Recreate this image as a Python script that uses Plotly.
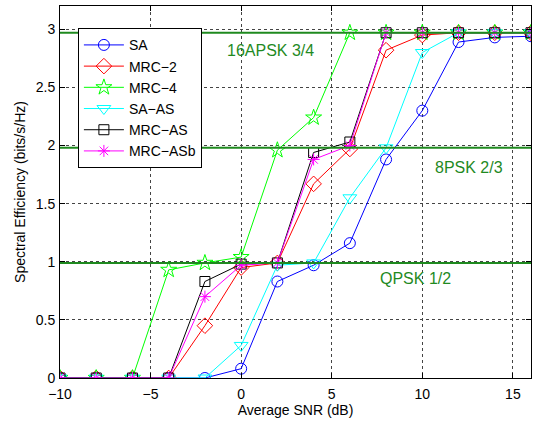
import plotly.graph_objects as go

snr = [-10, -8, -6, -4, -2, 0, 2, 4, 6, 8, 10, 12, 14, 16]

sa      = [0, 0, 0, 0, 0, 0.08, 0.83, 0.97, 1.16, 1.88, 2.30, 2.89, 2.93, 2.94]
mrc2    = [0, 0, 0, 0, 0.45, 0.95, 0.99, 1.67, 1.97, 2.82, 2.95, 2.97, 2.97, 2.97]
mrc4    = [0, 0, 0, 0.93, 0.99, 1.04, 1.96, 2.24, 2.97, 2.97, 2.97, 2.97, 2.97, 2.97]
sa_as   = [0, 0, 0, 0, 0, 0.28, 0.97, 0.99, 1.55, 1.98, 2.80, 2.97, 2.97, 2.97]
mrc_as  = [0, 0, 0, 0, 0.83, 0.98, 0.99, 1.94, 2.03, 2.97, 2.97, 2.97, 2.97, 2.97]
mrc_asb = [0, 0, 0, 0, 0.70, 0.97, 0.99, 1.88, 2.00, 2.97, 2.97, 2.97, 2.97, 2.97]

series_names = ["SA", "MRC\u22122", "MRC\u22124", "SA\u2212AS", "MRC\u2212AS", "MRC\u2212ASb"]
series_vals = [sa, mrc2, mrc4, sa_as, mrc_as, mrc_asb]
colors = ["#0000ff", "#ff0000", "#00ff00", "#00ffff", "#000000", "#ff00ff"]
symbols = ["circle-open", "diamond-open", "star-open", "triangle-down-open", "square-open", "asterisk-open"]
sizes = [11, 12, 12, 12, 10, 10]

levels = [0.99, 1.98, 2.97]
level_labels = ["QPSK 1/2", "8PSK 2/3", "16APSK 3/4"]
label_x = [9.6, 12.6, 1.6]
label_y = [0.86, 1.81, 2.82]

FONT = "Liberation Sans, Arial"

fig = go.Figure()
for name, vals, c, s, sz in zip(series_names, series_vals, colors, symbols, sizes):
    fig.add_trace(go.Scatter(
        x=snr, y=vals, name=name, mode="lines+markers",
        line=dict(color=c, width=1),
        marker=dict(symbol=s, size=sz, color=c, line=dict(color=c, width=1)),
    ))

for lv in levels:
    fig.add_trace(go.Scatter(
        x=[-10, 16], y=[lv, lv], mode="lines", showlegend=False,
        line=dict(color="#1f8a1f", width=2), hoverinfo="skip",
    ))

for t, xx, yy in zip(level_labels, label_x, label_y):
    fig.add_annotation(x=xx, y=yy, text=t, showarrow=False,
                       font=dict(size=16, color="#1f8a1f", family=FONT))

axis_common = dict(
    showline=True, linecolor="black", linewidth=1, mirror="ticks",
    ticks="inside", ticklen=5, tickcolor="black",
    showgrid=True, gridcolor="#444444", griddash="dot", gridwidth=1,
    zeroline=False,
    tickfont=dict(size=14, color="black", family=FONT),
)

fig.update_xaxes(range=[-10, 16], tickvals=[-10, -5, 0, 5, 10, 15],
                 ticklabelstandoff=3,
                 title=dict(text="Average SNR (dB)", font=dict(size=14, color="black", family=FONT), standoff=2),
                 **axis_common)
fig.update_yaxes(range=[0, 3.2], tickvals=[0, 0.5, 1, 1.5, 2, 2.5, 3],
                 ticklabelstandoff=1,
                 title=dict(text="Spectral Efficiency (bits/s/Hz)", font=dict(size=14, color="black", family=FONT), standoff=6),
                 **axis_common)

fig.update_layout(
    width=535, height=422,
    margin=dict(l=60, r=4, t=6, b=44),
    paper_bgcolor="white", plot_bgcolor="white",
    font=dict(family=FONT, color="black"),
    legend=dict(x=0.038, y=0.94, xanchor="left", yanchor="top",
                bgcolor="white", bordercolor="black", borderwidth=1,
                font=dict(size=14, color="black", family=FONT), tracegroupgap=0,
                itemwidth=40),
    showlegend=True,
)

fig.write_html("out.html")
